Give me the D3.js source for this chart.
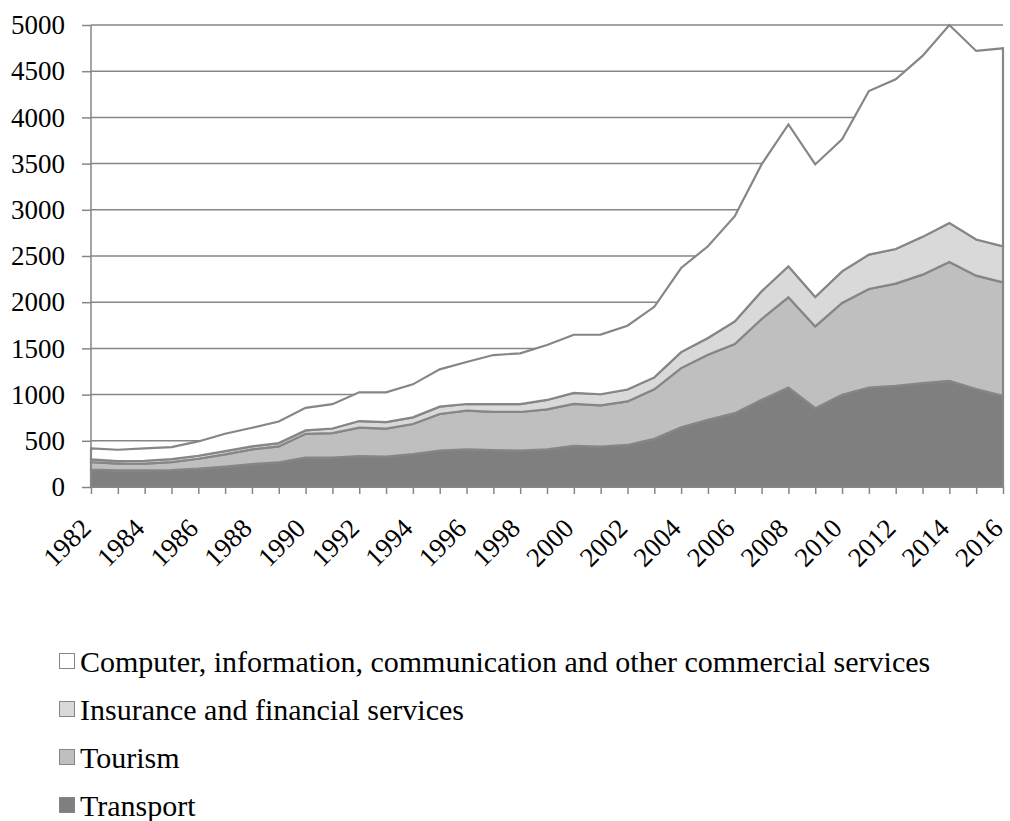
<!DOCTYPE html>
<html>
<head>
<meta charset="utf-8">
<script src="https://cdn.jsdelivr.net/npm/d3@7"></script>
<style>
  html, body { margin: 0; padding: 0; background: #ffffff; }
  svg { display: block; }
  text { font-family: "Liberation Serif", "Times New Roman", serif; fill: #000; }
</style>
</head>
<body>
<svg id="chart" width="1010" height="821"></svg>
<script>
// Services exports by category, 1982–2016
const years = d3.range(1982, 2017);

const transport = [187, 180, 180, 184, 198, 220, 248, 266, 317, 318,
  335, 328, 357, 393, 408, 400, 393, 408, 445, 437,
  455, 521, 645, 727, 799, 943, 1077, 853, 998, 1077,
  1095, 1124, 1149, 1059, 987];

const tourism = [83, 72, 72, 86, 108, 133, 159, 173, 259, 266,
  307, 303, 325, 397, 418, 412, 419, 433, 454, 446,
  471, 536, 642, 704, 748, 875, 976, 885, 993, 1066,
  1106, 1174, 1287, 1228, 1228];

const insurance = [29, 29, 32, 32, 32, 36, 32, 36, 36, 49,
  72, 72, 72, 79, 72, 86, 86, 101, 119, 121,
  129, 129, 173, 181, 245, 300, 336, 318, 343, 372,
  375, 409, 422, 391, 390];

const computer = [118, 122, 133, 130, 155, 187, 202, 234, 245, 263,
  311, 322, 357, 404, 455, 530, 548, 595, 630, 646,
  690, 764, 910, 993, 1139, 1373, 1535, 1435, 1428, 1770,
  1836, 1958, 2142, 2041, 2143];

const seriesNames = [
  "Transport",
  "Tourism",
  "Insurance and financial services",
  "Computer, information, communication and other commercial services"
];
const seriesValues = [transport, tourism, insurance, computer];
const seriesFills = ["#7f7f7f", "#bfbfbf", "#d9d9d9", "#ffffff"];

const yTicks = d3.range(0, 5001, 500);
const xLabelYears = years.filter(y => (y - 1982) % 2 === 0);

// rows for the stack
const rows = years.map((yr, i) => {
  const r = { year: yr };
  seriesNames.forEach((n, k) => { r[n] = seriesValues[k][i]; });
  return r;
});

const svg = d3.select("#chart");
const plotLeft = 91, plotRight = 1003, plotTop = 25, plotBottom = 487;

const x = d3.scalePoint().domain(years).range([plotLeft, plotRight]);
const y = d3.scaleLinear().domain([0, 5000]).range([plotBottom, plotTop]);

const gridColor = "#868686";

// horizontal gridlines
svg.append("g")
  .selectAll("line")
  .data(yTicks.filter(v => v > 0))
  .join("line")
  .attr("x1", plotLeft).attr("x2", plotRight)
  .attr("y1", d => y(d)).attr("y2", d => y(d))
  .attr("stroke", gridColor)
  .attr("stroke-width", 1.5);

// stacked areas
const stacked = d3.stack().keys(seriesNames)(rows);
const area = d3.area()
  .x(d => x(d.data.year))
  .y0(d => y(d[0]))
  .y1(d => y(d[1]));

svg.append("g")
  .selectAll("path")
  .data(stacked)
  .join("path")
  .attr("d", area)
  .attr("fill", (d, i) => seriesFills[i])
  .attr("stroke", gridColor)
  .attr("stroke-width", 2.2)
  .attr("stroke-linejoin", "miter");

// y axis
const yAxis = d3.axisLeft(y)
  .tickValues(yTicks)
  .tickSize(9)
  .tickPadding(17)
  .tickFormat(d3.format("d"));
const gy = svg.append("g").attr("transform", `translate(${plotLeft},0)`).call(yAxis);
gy.select(".domain").attr("stroke", gridColor).attr("stroke-width", 1.5).attr("d", `M0,${plotTop}V${plotBottom}`);
gy.selectAll(".tick line").attr("stroke", gridColor).attr("stroke-width", 1.5);
gy.selectAll(".tick text")
  .attr("font-family", "Liberation Serif, Times New Roman, serif")
  .attr("font-size", 27)
  .attr("fill", "#000");

// x axis
const xAxis = d3.axisBottom(x)
  .tickSize(7)
  .tickFormat(d => xLabelYears.includes(d) ? String(d) : "");
const gx = svg.append("g").attr("transform", `translate(0,${plotBottom})`).call(xAxis);
gx.select(".domain").attr("stroke", gridColor).attr("stroke-width", 1.5).attr("d", `M${plotLeft},0H${plotRight}`);
gx.selectAll(".tick line").attr("stroke", gridColor).attr("stroke-width", 1.5);
gx.selectAll(".tick text")
  .attr("font-family", "Liberation Serif, Times New Roman, serif")
  .attr("font-size", 27)
  .attr("fill", "#000")
  .attr("text-anchor", "end")
  .attr("dy", null)
  .attr("y", 0)
  .attr("transform", "translate(1,43) rotate(-45)");

// legend
const legendOrder = [3, 2, 1, 0];
const legend = svg.append("g");
legendOrder.forEach((k, i) => {
  const ly = 653.5 + i * 48;
  legend.append("rect")
    .attr("x", 59.5).attr("y", ly)
    .attr("width", 15).attr("height", 15)
    .attr("fill", seriesFills[k])
    .attr("stroke", gridColor)
    .attr("stroke-width", 1);
  legend.append("text")
    .attr("x", 80).attr("y", ly + 18.5)
    .attr("font-size", 30)
    .text(seriesNames[k]);
});
</script>
</body>
</html>
